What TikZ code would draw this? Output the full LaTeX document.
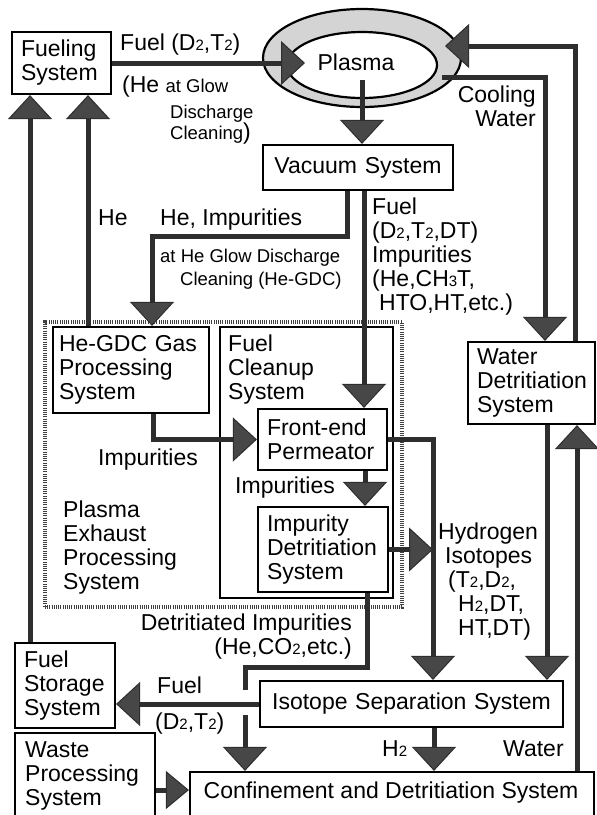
\documentclass[tikz,border=0pt]{standalone}
\usepackage{fontspec}
\setmainfont{Liberation Sans}
\usetikzlibrary{arrows.meta,shapes.geometric}
\newcommand\fmain{\fontsize{23}{24}\selectfont}
\newcommand\fsmall{\fontsize{18.5}{19}\selectfont}
\newcommand\subx[1]{{\fontsize{15}{15}\selectfont #1}}
\begin{document}
\begin{tikzpicture}[x=1pt,y=-1pt,
  box/.style={draw=black,line width=2.2pt,inner xsep=9pt,inner ysep=0pt,align=left,font=\fmain},
  lbl/.style={inner sep=0pt,font=\fmain,align=left},
  slbl/.style={inner sep=0pt,font=\fsmall,align=left},
  ln/.style={draw=black!82,line width=5pt},
  arr/.style={ln,-{Triangle[length=24pt,width=44pt,line width=1pt,fill=black!72]}},
  warr/.style={ln,-{Triangle[length=23pt,width=38pt,line width=1pt,fill=black!72]}},
  hatch/.style={draw=black!75,line width=4pt,dash pattern=on 1pt off 1.2pt}]
\path[use as bounding box,clip] (0,0) rectangle (597,815);
\fill[white] (0,0) rectangle (597,815);

% plasma torus
\node[ellipse,draw=black,line width=2.2pt,fill=black!17,minimum width=198pt,minimum height=98pt,inner sep=0pt] (plout) at (362,58) {};
\node[ellipse,draw=black,line width=2.2pt,fill=white,minimum width=150pt,minimum height=66pt,inner sep=0pt] (plin) at (362,65) {};
\node[lbl] (plasma) at (356,62) {Plasma};

% boxes
\node[box,minimum width=99pt,minimum height=62pt,text width=81pt] (fuel) at (61.5,63) {Fueling\\System};
\node[box,align=center,minimum width=190pt,minimum height=45pt,text width=172pt] (vac) at (358,167.5) {Vacuum System};
\node[hatch,minimum width=357pt,minimum height=285pt,inner sep=0pt] (peb) at (223.5,464.5) {};
\node[box,inner xsep=6pt,minimum width=156pt,minimum height=86pt,text width=144pt] (hegdc) at (131,370) {He-GDC Gas\\Processing\\System};
\node[box,minimum width=173pt,minimum height=271pt] (fcs) at (306.5,462.5) {};
\node[box,minimum width=129pt,minimum height=61pt,text width=111pt] (fep) at (322.5,439.5) {Front-end\\Permeator};
\node[box,minimum width=130pt,minimum height=85pt,text width=112pt] (ids) at (323,549.5) {Impurity\\Detritiation\\System};
\node[box,minimum width=127pt,minimum height=82pt,text width=109pt] (wds) at (531.5,383) {Water\\Detritiation\\System};
\node[box,align=center,minimum width=303pt,minimum height=46pt,text width=285pt] (iss) at (411.5,704) {Isotope Separation System};
\node[box,minimum width=100pt,minimum height=85pt,text width=82pt] (fss) at (65,685.5) {Fuel\\Storage\\System};
\node[box,minimum width=140pt,minimum height=102pt] (wps) at (85,784) {};
\node[box,minimum width=404pt,minimum height=58pt] (cds) at (392,801) {};

% texts
\node[lbl,anchor=north west] (fcstext) at (228,335) {Fuel\\Cleanup\\System};
\node[lbl,anchor=north west] (pebtext) at (63,501) {Plasma\\Exhaust\\Processing\\System};
\node[lbl,anchor=north west] (wpstext) at (25,741) {Waste\\Processing\\System};
\node[lbl,anchor=base] (cdstext) at (391,798) {Confinement and Detritiation System};

\node[lbl,anchor=base west] (fuellab) at (120,50) {Fuel (D\subx{2},T\subx{2})};
\node[lbl,anchor=base west] (helab1) at (122,92) {(He {\fsmall at Glow}};
\node[slbl,anchor=base west] (helab2) at (170,118) {Discharge};
\node[lbl,anchor=base west] (helab3) at (170,139) {{\fsmall Cleaning})};
\node[lbl,anchor=base west] (helab) at (98,225) {He};
\node[lbl,anchor=base west] (heimp) at (160,225) {He, Impurities};
\node[slbl,anchor=base west] (gdc1) at (160,262) {at He Glow Discharge};
\node[slbl,anchor=base west] (gdc2) at (180,285) {Cleaning (He-GDC)};
\node[lbl,anchor=north west] (vacout) at (372,198) {Fuel\\(D\subx{2},T\subx{2},DT)\\Impurities\\(He,CH\subx{3}T,\\\hspace*{7pt}HTO,HT,etc.)};
\node[lbl,anchor=north east,align=right] (cool) at (536,86) {Cooling\\Water};
\node[lbl,anchor=base west] (imp1) at (98,465) {Impurities};
\node[lbl,anchor=base west] (imp2) at (235,493) {Impurities};
\node[lbl,anchor=north west] (hyd) at (438,523) {Hydrogen\\\hspace*{7pt}Isotopes\\\hspace*{10pt}(T\subx{2},D\subx{2},\\\hspace*{20pt}H\subx{2},DT,\\\hspace*{20pt}HT,DT)};
\node[lbl,anchor=north east,align=right] (detr) at (352,614) {Detritiated Impurities\\(He,CO\subx{2},etc.)};
\node[lbl,anchor=base west] (fuel2) at (157,693) {Fuel};
\node[lbl,anchor=base west] (d2t2) at (155,729) {(D\subx{2},T\subx{2})};
\node[lbl,anchor=base west] (h2lab) at (382,756) {H\subx{2}};
\node[lbl,anchor=base west] (waterlab) at (503,756) {Water};

% coordinates
\coordinate (plasmafuel) at (305,63);
\coordinate (plvac) at (362,80);
\coordinate (cw0) at (442,77);
\coordinate (cw1) at (545,77);
\coordinate (rt0) at (575,46);
\coordinate (rtip) at (445,46);
\coordinate (vf) at (364,0);
\coordinate (vh0) at (347,236);
\coordinate (vh1) at (152,236);
\coordinate (hf) at (88,0);
\coordinate (sf) at (30,0);
\coordinate (hg) at (153,0);
\coordinate (fi) at (365,0);
\coordinate (hx) at (433,0);
\coordinate (d1) at (367,667);
\coordinate (d2) at (245,667);
\coordinate (d3) at (245,690);
\coordinate (d4) at (245,715);
\coordinate (h2x) at (434,0);
\coordinate (wx) at (547,0);
\coordinate (wx2) at (577,0);
\coordinate (wy) at (0,790);

% connectors
\draw[arr] (fuel.east) -- (plasmafuel);
\draw[arr] (plvac) -- (plvac |- vac.north);
\draw[arr] (cw0) -- (cw1) -- (cw1 |- wds.north);
\draw[arr] (rt0 |- wds.north) -- (rt0) -- (rtip);
\draw[arr] (vac.south -| vf) -- (fep.north -| vf);
\draw[arr] (vac.south -| vh0) -- (vh0) -- (vh1) -- (vh1 |- hegdc.north);
\draw[arr] (hegdc.north -| hf) -- (fuel.south -| hf);
\draw[arr] (fss.north -| sf) -- (fuel.south -| sf);
\draw[arr] (hegdc.south -| hg) |- (fep.west);
\draw[arr] (fep.south -| fi) -- (ids.north -| fi);
\draw[arr] (fep.east) -| (iss.north -| hx);
\draw[arr] (ids.east) -- (ids.east -| hx);
\draw[ln] (ids.south -| d1) -- (d1) -- (d2) -- (d3);
\draw[arr] (iss.west) -- (iss.west -| fss.east);
\draw[arr] (d4) -- (cds.north -| d4);
\draw[arr] (iss.south -| h2x) -- (cds.north -| h2x);
\draw[arr] (wds.south -| wx) -- (iss.north -| wx);
\draw[arr] (cds.north -| wx2) -- (wds.south -| wx2);
\draw[warr] (wps.east |- wy) -- (cds.west |- wy);
\end{tikzpicture}
\end{document}
